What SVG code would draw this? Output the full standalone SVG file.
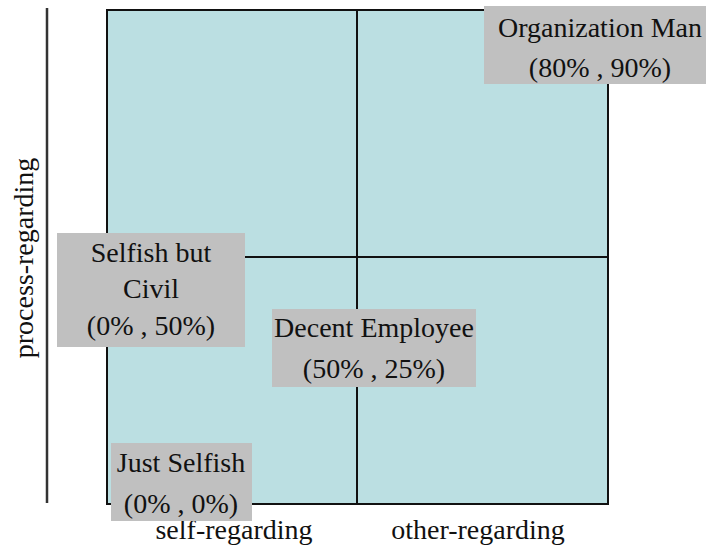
<svg xmlns="http://www.w3.org/2000/svg" width="706" height="552" viewBox="0 0 706 552">
  <style>
    .lbl { font-family: "Liberation Serif", "Times New Roman", serif; font-size: 28px; fill: #111; text-anchor: middle; }
    .quad { fill: #bbdfe2; stroke: #111; stroke-width: 2; }
    .divider { stroke: #111; stroke-width: 2; fill: none; }
    .axis { stroke: #333; stroke-width: 2.5; fill: none; }
    .tag { fill: #c0c0c0; }
  </style>

  <!-- quadrant field -->
  <g id="field">
    <rect class="quad" x="107" y="10" width="501" height="494"/>
  </g>

  <!-- axis line and quadrant dividers -->
  <g id="connectors">
    <line class="axis" x1="47" y1="8" x2="47" y2="503"/>
    <line class="divider" x1="357" y1="10" x2="357" y2="504"/>
    <line class="divider" x1="107" y1="257" x2="608" y2="257"/>
  </g>

  <g font-family="Liberation Serif, Times New Roman, serif" font-size="28" fill="#111" text-anchor="middle">
    <!-- axis labels -->
    <g id="label-process">
      <text class="lbl" transform="translate(33,258) rotate(-90)">process-regarding</text>
    </g>
    <g id="label-self">
      <text class="lbl" x="234" y="539">self-regarding</text>
    </g>
    <g id="label-other">
      <text class="lbl" x="478" y="539">other-regarding</text>
    </g>

    <!-- positioned profiles -->
    <g id="organization-man">
      <rect class="tag" x="484" y="6" width="230" height="78"/>
      <text class="lbl" x="600" y="37">Organization Man</text>
      <text class="lbl" x="600" y="77">(80% , 90%)</text>
    </g>

    <g id="selfish-but-civil">
      <rect class="tag" x="57" y="233" width="188" height="114"/>
      <text class="lbl" x="151" y="262">Selfish but</text>
      <text class="lbl" x="151" y="298">Civil</text>
      <text class="lbl" x="151" y="335">(0% , 50%)</text>
    </g>

    <g id="decent-employee">
      <rect class="tag" x="272" y="309" width="204" height="78"/>
      <text class="lbl" x="374" y="337">Decent Employee</text>
      <text class="lbl" x="374" y="378">(50% , 25%)</text>
    </g>

    <g id="just-selfish">
      <rect class="tag" x="111" y="443" width="141" height="78"/>
      <text class="lbl" x="181" y="472">Just Selfish</text>
      <text class="lbl" x="181" y="513">(0% , 0%)</text>
    </g>
  </g>
</svg>
